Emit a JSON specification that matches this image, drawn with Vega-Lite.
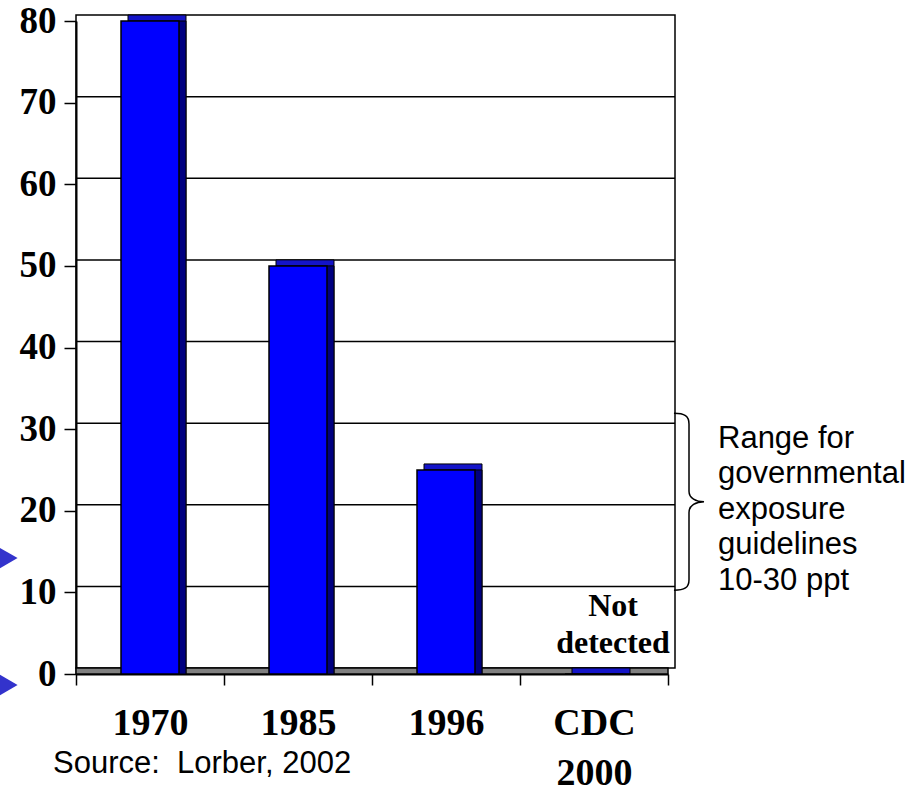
{
  "$schema": "https://vega.github.io/schema/vega-lite/v6.json",
  "width": 592,
  "height": 653,
  "autosize": {"type": "none"},
  "padding": {"left": 76, "top": 21, "right": 250, "bottom": 113},
  "background": "white",
  "config": {"view": {"stroke": null}},
  "datasets": {
    "bars": [
      {"period": "1970", "value": 80, "label": ""},
      {"period": "1985", "value": 50, "label": ""},
      {"period": "1996", "value": 25, "label": ""},
      {"period": "CDC 2000", "value": 0, "label": "Not detected"}
    ],
    "grid": [{"tick": 10}, {"tick": 20}, {"tick": 30}, {"tick": 40}, {"tick": 50}, {"tick": 60}, {"tick": 70}],
    "markers": [{"pos": 14.2}, {"pos": -1.35}],
    "one": [{"note": "Range for\ngovernmental\nexposure\nguidelines\n10-30 ppt", "source": "Source:\u00a0 Lorber, 2002"}]
  },
  "layer": [
    {
      "data": {"name": "one"},
      "mark": {"type": "rect", "fill": "transparent", "stroke": "black", "strokeWidth": 1.5, "xOffset": 7, "x2Offset": 7, "yOffset": -6, "y2Offset": -6},
      "encoding": {
        "y": {"datum": 80, "type": "quantitative", "scale": {"domain": [0, 80], "nice": false}},
        "y2": {"datum": 0}
      }
    },
    {
      "data": {"name": "grid"},
      "mark": {"type": "rule", "stroke": "black", "strokeWidth": 1.5, "xOffset": 7, "x2Offset": 7, "yOffset": -6},
      "encoding": {
        "y": {"field": "tick", "type": "quantitative", "scale": {"domain": [0, 80], "nice": false}}
      }
    },
    {
      "data": {"name": "one"},
      "mark": {"type": "rect", "fill": "#808080", "stroke": "black", "strokeWidth": 1.5, "x2Offset": 7, "y2Offset": -6},
      "encoding": {
        "y": {"datum": 0, "type": "quantitative", "scale": {"domain": [0, 80], "nice": false}},
        "y2": {"datum": 0}
      }
    },
    {
      "data": {"name": "bars"},
      "mark": {"type": "bar", "size": 58, "fill": "#1414C8", "stroke": "black", "strokeWidth": 1, "xOffset": 7, "yOffset": -6, "y2Offset": 0},
      "encoding": {
        "x": {"field": "period", "type": "nominal", "sort": null},
        "y": {"field": "value", "type": "quantitative", "scale": {"domain": [0, 80], "nice": false}},
        "y2": {"datum": 0}
      }
    },
    {
      "data": {"name": "bars"},
      "mark": {"type": "bar", "size": 58, "fill": "#000080", "stroke": "black", "strokeWidth": 1, "xOffset": 7},
      "encoding": {
        "x": {"field": "period", "type": "nominal", "sort": null},
        "y": {"field": "value", "type": "quantitative", "scale": {"domain": [0, 80], "nice": false}}
      }
    },
    {
      "data": {"name": "bars"},
      "mark": {"type": "bar", "size": 58, "fill": "#0000FF", "stroke": "black", "strokeWidth": 1.5},
      "encoding": {
        "x": {
          "field": "period",
          "type": "nominal",
          "sort": null,
          "scale": {"paddingInner": 0, "paddingOuter": 0},
          "axis": {
            "title": null,
            "labelAngle": 0,
            "labelAlign": "center",
            "bandPosition": 0.5,
            "domainColor": "black",
            "domainWidth": 2,
            "tickColor": "black",
            "tickWidth": 1.5,
            "tickSize": 11,
            "tickBand": "extent",
            "labelFont": "Liberation Serif",
            "labelFontWeight": "bold",
            "labelFontSize": 38,
            "labelColor": "black",
            "labelPadding": 38,
            "labelLineHeight": 50,
            "labelExpr": "datum.label == 'CDC 2000' ? ['CDC', '2000'] : datum.label"
          }
        },
        "y": {
          "field": "value",
          "type": "quantitative",
          "scale": {"domain": [0, 80], "nice": false},
          "axis": {
            "title": null,
            "values": [0, 10, 20, 30, 40, 50, 60, 70, 80],
            "grid": false,
            "domainColor": "black",
            "domainWidth": 2,
            "tickColor": "black",
            "tickWidth": 1.5,
            "tickSize": 12,
            "labelFont": "Liberation Serif",
            "labelFontWeight": "bold",
            "labelFontSize": 37,
            "labelColor": "black",
            "labelPadding": 8
          }
        }
      }
    },
    {
      "data": {"name": "bars"},
      "mark": {"type": "text", "font": "Liberation Serif", "fontWeight": "bold", "fontSize": 32, "color": "black", "baseline": "bottom", "lineBreak": " ", "lineHeight": 37, "dx": 19, "dy": -51},
      "encoding": {
        "x": {"field": "period", "type": "nominal", "sort": null},
        "y": {"field": "value", "type": "quantitative", "scale": {"domain": [0, 80], "nice": false}},
        "text": {"field": "label"}
      }
    },
    {
      "data": {"name": "one"},
      "mark": {"type": "text", "font": "Liberation Sans", "fontSize": 31, "color": "black", "align": "left", "baseline": "middle", "lineBreak": "\n", "lineHeight": 35.5, "dx": 124, "dy": -72},
      "encoding": {
        "x": {"datum": "CDC 2000", "type": "nominal"},
        "y": {"datum": 20, "type": "quantitative", "scale": {"domain": [0, 80], "nice": false}},
        "text": {"field": "note"}
      }
    },
    {
      "data": {"name": "one"},
      "mark": {"type": "point", "shape": "M-0.17,-1 C-0.05,-1 0,-0.97 0,-0.88 L0,-0.12 C0,-0.04 0.08,0 0.17,0 C0.08,0 0,0.04 0,0.12 L0,0.88 C0,0.97 -0.05,1 -0.17,1", "size": 31329, "filled": false, "stroke": "black", "strokeWidth": 1.5, "opacity": 1, "xOffset": 95},
      "encoding": {
        "x": {"datum": "CDC 2000", "type": "nominal"},
        "y": {"datum": 21.1, "type": "quantitative", "scale": {"domain": [0, 80], "nice": false}}
      }
    },
    {
      "data": {"name": "one"},
      "mark": {"type": "text", "font": "Liberation Sans", "fontSize": 31, "color": "black", "align": "left", "baseline": "alphabetic", "dx": -97, "dy": 99},
      "encoding": {
        "x": {"datum": "1970", "type": "nominal"},
        "y": {"datum": 0, "type": "quantitative", "scale": {"domain": [0, 80], "nice": false}},
        "text": {"field": "source"}
      }
    },
    {
      "data": {"name": "markers"},
      "mark": {"type": "point", "shape": "triangle-right", "size": 600, "filled": true, "fill": "#3333CC", "stroke": null, "opacity": 1, "xOffset": -143},
      "encoding": {
        "x": {"datum": "1970", "type": "nominal"},
        "y": {"field": "pos", "type": "quantitative", "scale": {"domain": [0, 80], "nice": false}}
      }
    }
  ]
}
